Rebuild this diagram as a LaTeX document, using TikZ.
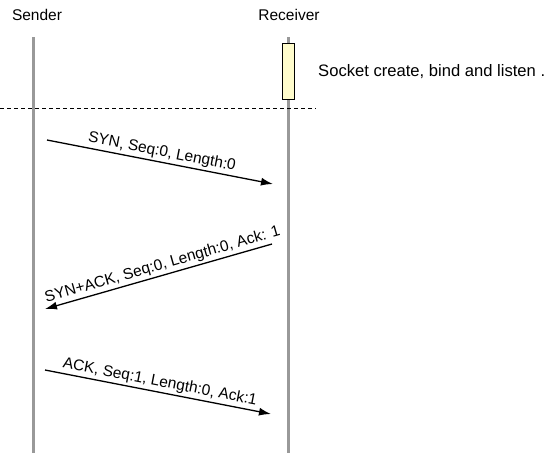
\documentclass[tikz,border=0pt]{standalone}
\usepackage{fontspec}
\setmainfont{Liberation Sans}
\usetikzlibrary{arrows.meta}
\begin{document}
\begin{tikzpicture}[x=1pt,y=-1pt,
  life/.style={draw=black!40, line width=3pt},
  msg/.style={draw=black, line width=1.3pt, -{Latex[length=12pt,width=8pt]}},
  lbl/.style={font=\fontsize{15.5}{17}\selectfont, sloped, above, inner sep=2pt},
  head/.style={font=\fontsize{15.5}{17}\selectfont, inner sep=0pt},
  actbox/.style={draw=black, fill=yellow!20, line width=0.8pt, minimum width=12pt, minimum height=56pt, inner sep=0pt}
]
\useasboundingbox (0,0) rectangle (553,453);
\node[head] (sender) at (37,15) {Sender};
\node[head] (receiver) at (289,15) {Receiver};
\coordinate (s0) at (33,37);
\coordinate (s1) at (33,453);
\coordinate (r0) at (288,37);
\coordinate (r1) at (288,453);
\draw[life] (s0) -- (s1);
\draw[life] (r0) -- (r1);
\node[actbox] (act) at (288,71) {};
\node[head, anchor=west, font=\fontsize{16.6}{18}\selectfont] (socket) at (318,72) {Socket create, bind and listen .};
\coordinate (d0) at (0,108);
\coordinate (d1) at (316,108);
\draw[line width=0.8pt, dash pattern=on 4pt off 3pt] (d0) -- (d1);
\coordinate (a1s) at (47,140);
\coordinate (a1e) at (273,184);
\draw[msg] (a1s) -- node[lbl] {SYN, Seq:0, Length:0} (a1e);
\coordinate (a2s) at (272,244);
\coordinate (a2e) at (45,309);
\draw[msg] (a2s) -- node[lbl, pos=0.47] {SYN+ACK, Seq:0, Length:0, Ack: 1} (a2e);
\coordinate (a3s) at (45,370);
\coordinate (a3e) at (271,414);
\draw[msg] (a3s) -- node[lbl] {ACK, Seq:1, Length:0, Ack:1} (a3e);
\end{tikzpicture}
\end{document}
